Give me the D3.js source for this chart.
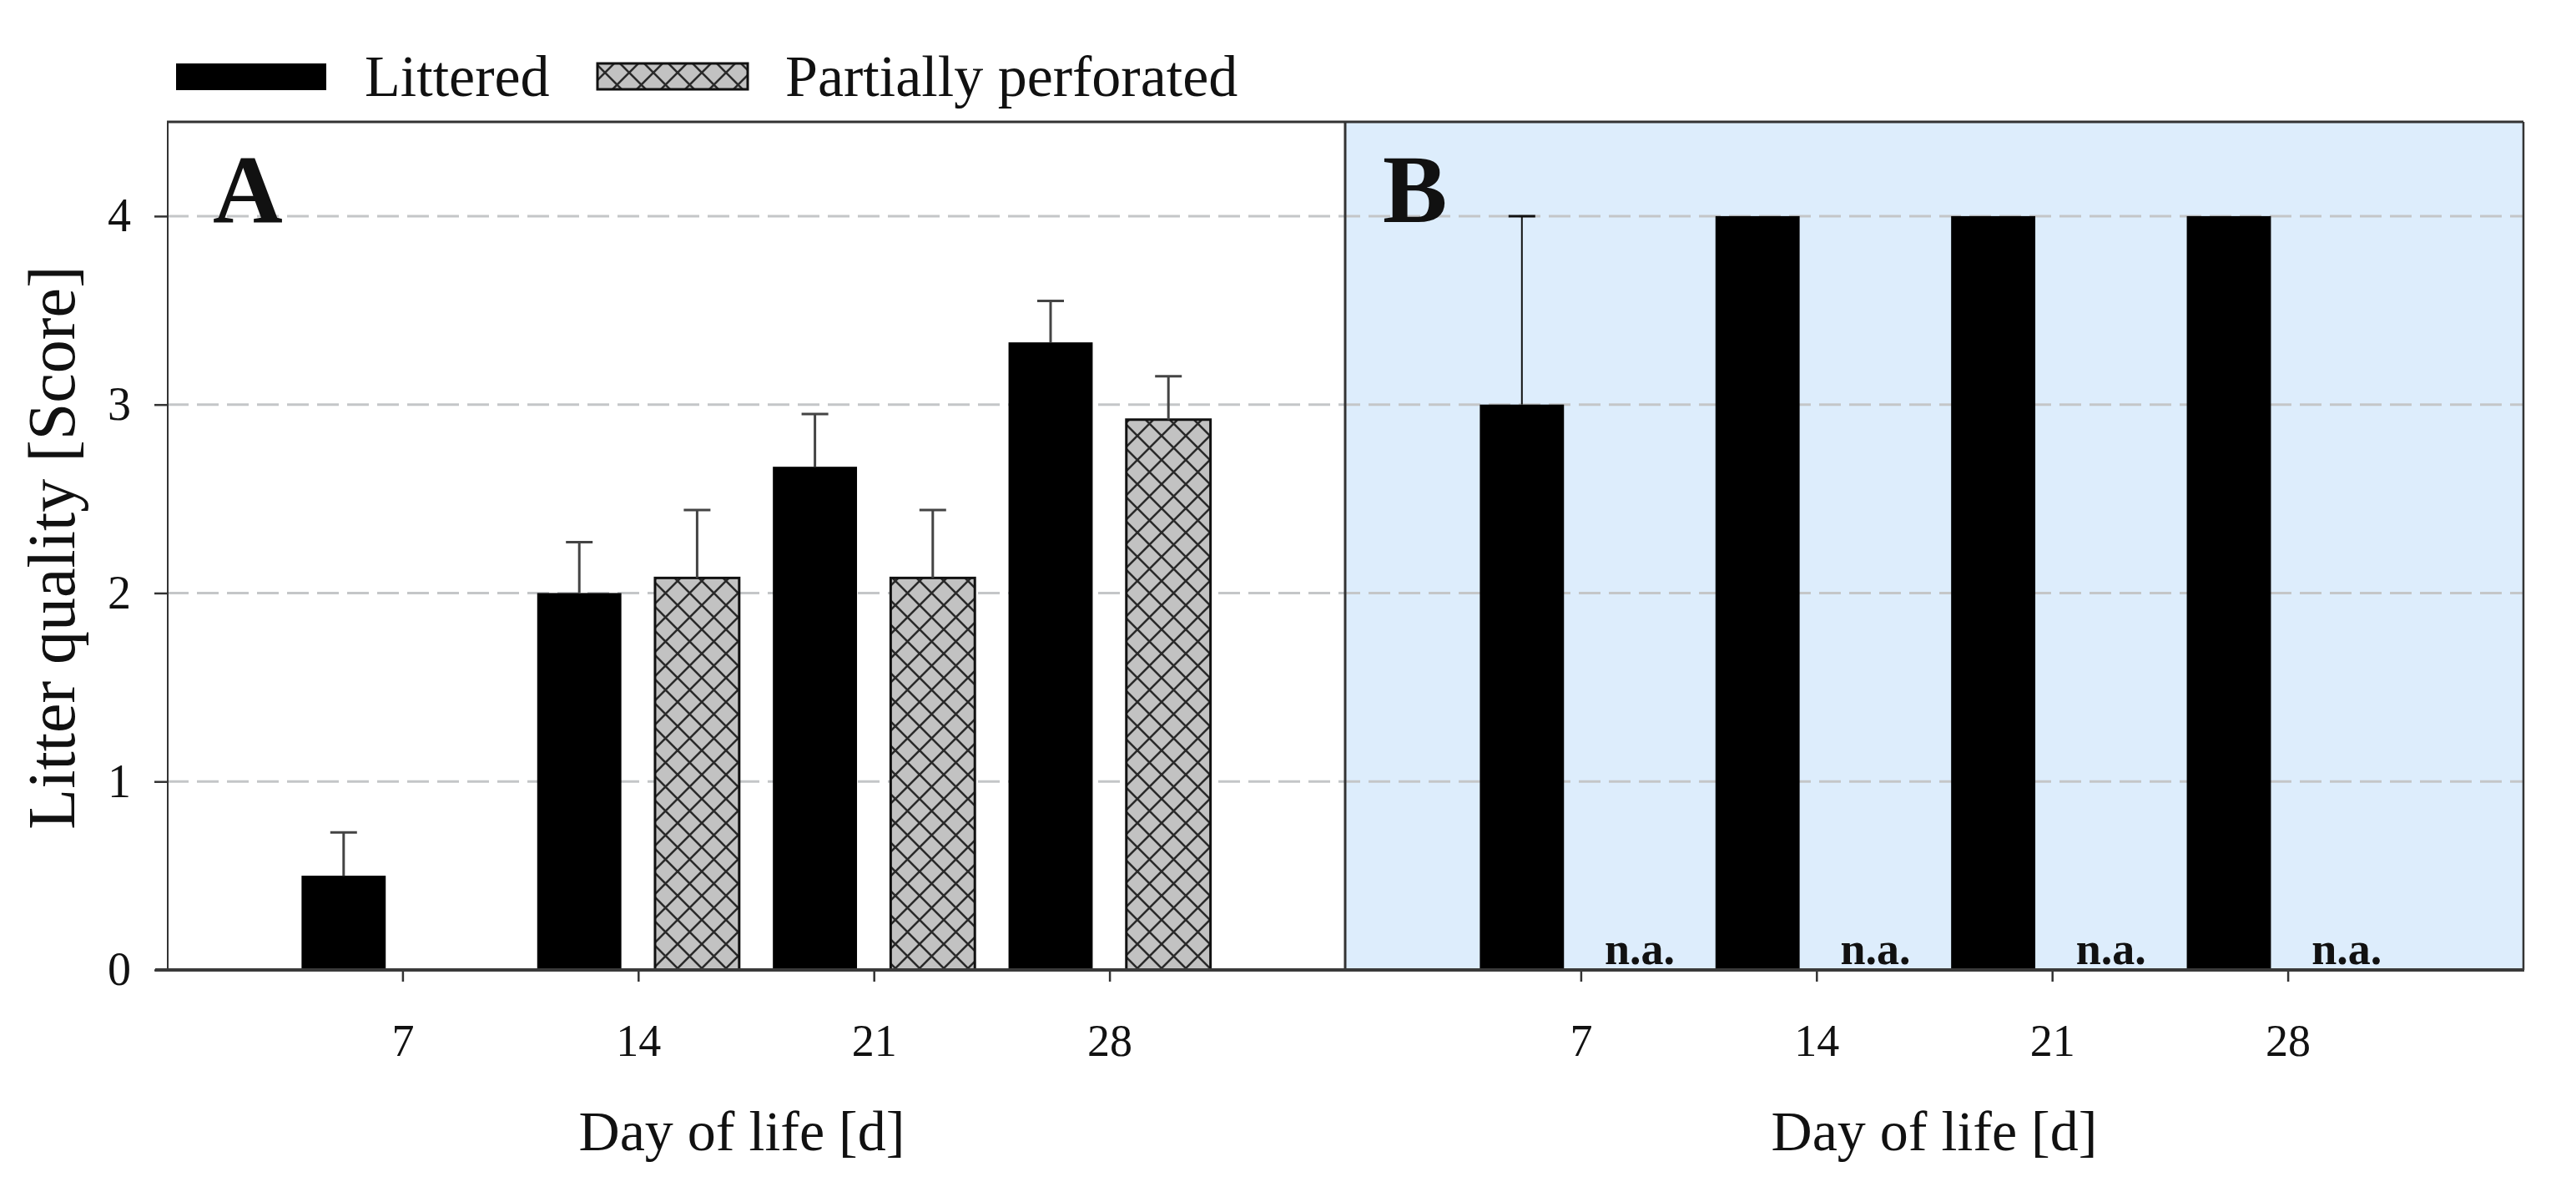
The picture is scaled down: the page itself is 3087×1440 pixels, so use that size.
<!DOCTYPE html>
<html>
<head>
<meta charset="utf-8">
<script src="https://cdn.jsdelivr.net/npm/d3@7"></script>
<style>
  body { margin: 0; background: #fff; }
  text { font-family: "Liberation Serif", "DejaVu Serif", serif; fill: #111; }
</style>
</head>
<body>
<div id="container__chart"></div>
<script>
// data
const days = [7, 14, 21, 28];
const yTicks = [0, 1, 2, 3, 4];
const legendLabels = ["Littered", "Partially perforated"];
const xTitle = "Day of life [d]";
const yTitle = "Litter quality [Score]";
const panelLabels = ["A", "B"];

// panel A
const litteredA = [0.5, 2.0, 2.67, 3.33];
const litteredAErr = [0.23, 0.27, 0.28, 0.22];
const perforatedA = [null, 2.08, 2.08, 2.92];
const perforatedAErr = [null, 0.36, 0.36, 0.23];

// panel B
const litteredB = [3, 4, 4, 4];
const litteredBErr = [1, 0, 0, 0];
const perforatedB = [null, null, null, null];
const naLabel = "n.a.";

// chart dimensions
const width = 3087, height = 1440;
const plotTop = 146, plotBottom = 1162;
const leftA = 200, mid = 1612, rightB = 3024;

// bars sit 0.5 day off the tick, 2.5 days wide
const barOff = 0.5, barW = 2.5;

const svg = d3.select('#container__chart')
    .append('svg')
    .attr('width', width)
    .attr('height', height)
    .style('background', '#fff');

// scales
const y = d3.scaleLinear().domain([0, 4.5]).range([plotBottom, plotTop]);
const xA = d3.scaleLinear().domain([0, 35]).range([leftA, mid]);
const xB = d3.scaleLinear().domain([0, 35]).range([mid, rightB]);

// hatch pattern for the partially perforated bars
const defs = svg.append('defs');
const pat = defs.append('pattern')
    .attr('id', 'hatch')
    .attr('patternUnits', 'userSpaceOnUse')
    .attr('width', 29)
    .attr('height', 29);
pat.append('rect').attr('width', 29).attr('height', 29).attr('fill', '#c2c2c2');
pat.append('path')
    .attr('d', 'M0,0 L29,29 M0,29 L29,0 M-3,3 L3,-3 M26,32 L32,26 M-3,26 L3,32 M26,-3 L32,3')
    .attr('stroke', '#2a2a2a')
    .attr('stroke-width', 2.6);

// panel B background
svg.append('rect')
    .attr('x', mid).attr('y', plotTop)
    .attr('width', rightB - mid).attr('height', plotBottom - plotTop)
    .attr('fill', '#DDEDFC');

// gridlines
svg.append('g')
    .selectAll('line')
    .data(yTicks.filter(d => d > 0))
    .join('line')
    .attr('x1', leftA).attr('x2', rightB)
    .attr('y1', d => y(d)).attr('y2', d => y(d))
    .attr('stroke', '#c4c6c8')
    .attr('stroke-width', 3)
    .attr('stroke-dasharray', '26,10');

// bars and error bars
function drawPanel(x, litt, littErr, perf, perfErr, errColor, errWidth) {
    const g = svg.append('g');
    const rows = days.map((d, i) => ({ day: d, litt: litt[i], littErr: littErr[i], perf: perf[i], perfErr: perfErr ? perfErr[i] : null }));

    g.selectAll('.bar-l')
        .data(rows)
        .join('rect')
        .attr('class', 'bar-l')
        .attr('x', d => x(d.day - barOff - barW))
        .attr('width', d => x(d.day - barOff) - x(d.day - barOff - barW))
        .attr('y', d => y(d.litt))
        .attr('height', d => y(0) - y(d.litt))
        .attr('fill', '#000');

    g.selectAll('.bar-p')
        .data(rows.filter(d => d.perf != null))
        .join('rect')
        .attr('class', 'bar-p')
        .attr('x', d => x(d.day + barOff))
        .attr('width', d => x(d.day + barOff + barW) - x(d.day + barOff))
        .attr('y', d => y(d.perf))
        .attr('height', d => y(0) - y(d.perf))
        .attr('fill', 'url(#hatch)')
        .attr('stroke', '#111')
        .attr('stroke-width', 3);

    const errs = [];
    rows.forEach(d => {
        if (d.littErr) errs.push({ cx: x(d.day - barOff - barW / 2), v: d.litt, e: d.littErr });
        if (d.perf != null && d.perfErr) errs.push({ cx: x(d.day + barOff + barW / 2), v: d.perf, e: d.perfErr });
    });
    const eg = g.selectAll('.err').data(errs).join('g').attr('class', 'err');
    eg.append('line')
        .attr('x1', d => d.cx).attr('x2', d => d.cx)
        .attr('y1', d => y(d.v)).attr('y2', d => y(d.v + d.e))
        .attr('stroke', errColor).attr('stroke-width', errWidth);
    eg.append('line')
        .attr('x1', d => d.cx - 16).attr('x2', d => d.cx + 16)
        .attr('y1', d => y(d.v + d.e)).attr('y2', d => y(d.v + d.e))
        .attr('stroke', errColor).attr('stroke-width', 3);
}

drawPanel(xA, litteredA, litteredAErr, perforatedA, perforatedAErr, '#444', 3);
drawPanel(xB, litteredB, litteredBErr, perforatedB, null, '#111', 2);

// n.a. labels in panel B
svg.append('g')
    .selectAll('text')
    .data(days.filter((d, i) => perforatedB[i] == null))
    .join('text')
    .attr('x', d => xB(d + barOff + barW / 2))
    .attr('y', plotBottom - 7)
    .attr('text-anchor', 'middle')
    .style('font-size', '54px')
    .style('font-weight', 'bold')
    .text(naLabel);

// frame
const frame = svg.append('g').attr('stroke', '#333').attr('fill', 'none');
frame.append('line').attr('x1', leftA).attr('x2', rightB).attr('y1', plotTop).attr('y2', plotTop).attr('stroke-width', 3);
frame.append('line').attr('x1', leftA + 1).attr('x2', leftA + 1).attr('y1', plotTop).attr('y2', plotBottom).attr('stroke-width', 2);
frame.append('line').attr('x1', mid).attr('x2', mid).attr('y1', plotTop).attr('y2', plotBottom).attr('stroke-width', 3);
frame.append('line').attr('x1', rightB).attr('x2', rightB).attr('y1', plotTop).attr('y2', plotBottom).attr('stroke-width', 2.5);

// Add the y-axis.
const yAxis = svg.append('g')
    .attr('transform', `translate(${leftA},0)`)
    .call(d3.axisLeft(y).tickValues(yTicks).tickFormat(d3.format('d')).tickSize(15).tickPadding(28));
yAxis.select('.domain').remove();
yAxis.selectAll('line').attr('stroke', '#333').attr('stroke-width', 2.5);
yAxis.selectAll('text').style('font-size', '56px');
yAxis.attr('font-family', null).attr('font-size', null);

// Add the x-axes.
[xA, xB].forEach(x => {
    const ax = svg.append('g')
        .attr('transform', `translate(0,${plotBottom})`)
        .call(d3.axisBottom(x).tickValues(days).tickSize(14).tickPadding(51));
    ax.select('.domain').remove();
    ax.selectAll('line').attr('stroke', '#333').attr('stroke-width', 2.5);
    ax.selectAll('text').style('font-size', '54px');
    ax.attr('font-family', null).attr('font-size', null);
});

// bottom axis line
svg.append('line')
    .attr('x1', 186).attr('x2', rightB + 1)
    .attr('y1', plotBottom).attr('y2', plotBottom)
    .attr('stroke', '#3a3a3a')
    .attr('stroke-width', 4);

// axis titles
svg.append('text')
    .attr('x', (leftA + mid) / 2 - 17).attr('y', 1378)
    .attr('text-anchor', 'middle')
    .style('font-size', '68px')
    .text(xTitle);
svg.append('text')
    .attr('x', (mid + rightB) / 2).attr('y', 1378)
    .attr('text-anchor', 'middle')
    .style('font-size', '68px')
    .text(xTitle);
svg.append('text')
    .attr('transform', 'translate(62,656) rotate(-90)')
    .attr('text-anchor', 'middle')
    .attr('dominant-baseline', 'central')
    .style('font-size', '80px')
    .text(yTitle);

// panel letters
svg.append('text').attr('x', 255).attr('y', 266)
    .style('font-size', '116px').style('font-weight', 'bold').text(panelLabels[0]);
svg.append('text').attr('x', 1657).attr('y', 266)
    .style('font-size', '116px').style('font-weight', 'bold').text(panelLabels[1]);

// legend
const legend = svg.append('g');
legend.append('rect').attr('x', 211).attr('y', 76).attr('width', 180).attr('height', 32).attr('fill', '#000');
legend.append('text').attr('x', 437).attr('y', 115).style('font-size', '70px').text(legendLabels[0]);
legend.append('rect').attr('x', 716).attr('y', 76).attr('width', 180).attr('height', 31)
    .attr('fill', 'url(#hatch)').attr('stroke', '#111').attr('stroke-width', 3);
legend.append('text').attr('x', 941).attr('y', 115).style('font-size', '70px').text(legendLabels[1]);
</script>
</body>
</html>
